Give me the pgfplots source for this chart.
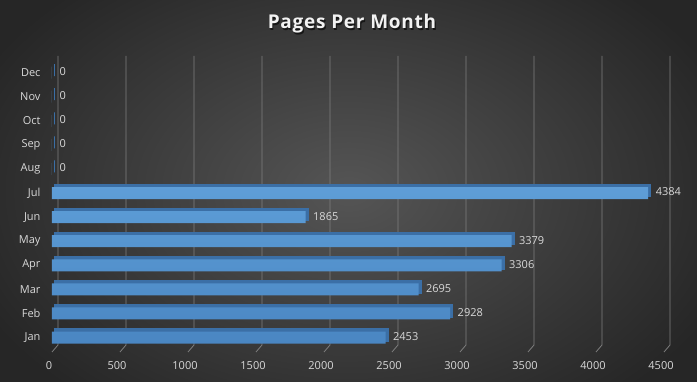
\documentclass[border=0pt]{standalone}
\usepackage{pgfplots}
\pgfplotsset{compat=1.18}
\usepackage{fontspec}
\setmainfont{Open Sans}
\newfontfamily\titlefont[LetterSpace=4]{Open Sans}
\definecolor{bgin}{HTML}{555555}
\definecolor{bgout}{HTML}{262626}
\definecolor{gridc}{HTML}{7F7F7F}
\definecolor{txt}{HTML}{D9D9D9}
\definecolor{barmid}{HTML}{5B9BD5}
\definecolor{bartop}{HTML}{78B0E6}
\definecolor{barbot}{HTML}{4A86C2}
\definecolor{barback}{HTML}{3B6FA6}
\begin{document}
\begin{tikzpicture}[x=1pt,y=1pt]
\useasboundingbox (0,0) rectangle (697,382);
\shade[inner color=bgin, outer color=bgout] (-60,-80) rectangle (757,462);
\node[text=black, opacity=0.6, font=\fontsize{19}{23}\titlefont\bfseries] at (353.2,356.6) {Pages Per Month};
\node[text=white!95!black, font=\fontsize{19}{23}\titlefont\bfseries] at (352,358) {Pages Per Month};
\begin{axis}[
  at={(52pt,30pt)}, anchor=south west,
  scale only axis, width=612pt, height=289pt,
  xbar, bar width=0.5,
  xmin=0, xmax=4500, ymin=-0.6, ymax=11.4,
  xtick={0,500,...,4500},
  ytick={0,...,11},
  yticklabels={Jan,Feb,Mar,Apr,May,Jun,Jul,Aug,Sep,Oct,Nov,Dec},
  axis line style={draw=none},
  major tick length=0pt,
  tick label style={text=txt, font=\fontsize{11}{13}\selectfont},
  xticklabel style={yshift=-6pt, xshift=-3pt},
  yticklabel style={xshift=-8pt},
  /pgf/number format/assume math mode=true,
  /pgf/number format/set thousands separator={},
  scaled x ticks=false,
  clip=false,
]
\pgfplotsinvokeforeach{0,500,...,4500}{
  \draw[gridc, line width=0.8pt] ([xshift=6pt,yshift=7pt]axis cs:#1,11.4) -- ([xshift=6pt,yshift=7pt]axis cs:#1,-0.6) -- (axis cs:#1,-0.6);
}
\addplot[draw=barback, fill=barback, line width=1.4pt, xshift=2.5pt, yshift=2.5pt, forget plot]
 coordinates {(2453,0) (2928,1) (2695,2) (3306,3) (3379,4) (1865,5) (4384,6) (0,7) (0,8) (0,9) (0,10) (0,11)};
\addplot[draw=none, top color=bartop, bottom color=barbot, middle color=barmid,
  nodes near coords, every node near coord/.append style={text=txt, font=\fontsize{11}{13}\selectfont, anchor=west, xshift=4pt, yshift=1pt},
  point meta=explicit symbolic]
 coordinates {(2453,0)[2453] (2928,1)[2928] (2695,2)[2695] (3306,3)[3306] (3379,4)[3379] (1865,5)[1865] (4384,6)[4384] (0,7)[0] (0,8)[0] (0,9)[0] (0,10)[0] (0,11)[0]};
\end{axis}
\end{tikzpicture}
\end{document}
